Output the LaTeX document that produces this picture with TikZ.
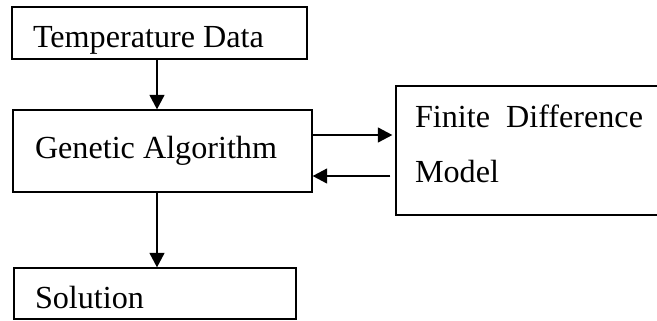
\documentclass[tikz,border=0pt]{standalone}
\usepackage{fontspec}
\setmainfont{Liberation Serif}
\usetikzlibrary{arrows.meta,positioning}
\tikzstyle{every node}=[font=\fontsize{18.3pt}{31.3pt}\selectfont]
\tikzstyle{block}=[rectangle,draw=black,line width=0.75pt,align=flush left,text depth=0pt,inner ysep=0pt]
\tikzstyle{flowedge}=[-{Triangle[length=0.29cm,width=0.3cm]},line width=0.75pt,black]

\begin{document}
\begin{tikzpicture}
\clip (0,0) rectangle (13.14,-6.40);

	% Boxes
    \node[block, text width=5.06cm, inner xsep=0.42cm, minimum height=1.04cm, text height=0.56cm] (Temp) at (3.19,-0.66) {Temperature Data};
    \node[block, text width=5.10cm, inner xsep=0.44cm, minimum height=1.64cm, text height=0.28cm] (GA) at (3.25,-3.02) {Genetic Algorithm};
    \node[block, align=justify, text width=4.56cm, inner xsep=0.38cm, minimum height=2.58cm, text height=0.4cm, text depth=1.34cm] (FD) at (10.58,-3.01) {Finite Difference\linebreak Model};
    \node[block, text width=4.80cm, inner xsep=0.42cm, minimum height=1.02cm, text height=0.58cm] (Sol) at (3.10,-5.87) {Solution};

	% Connectors
    \draw[flowedge] ([xshift=-0.05cm]Temp.south) -- ([xshift=-0.05cm]Temp.south |- GA.north);
    \draw[flowedge, shorten >=0.06cm] ([yshift=0.32cm]GA.east) -- ([yshift=0.32cm]GA.east -| FD.west);
    \draw[flowedge, shorten <=0.1cm] ([yshift=-0.5cm]GA.east -| FD.west) -- ([yshift=-0.5cm]GA.east);
    \draw[flowedge] ([xshift=-0.11cm]GA.south) -- ([xshift=-0.11cm]GA.south |- Sol.north);

\end{tikzpicture}
\end{document}
